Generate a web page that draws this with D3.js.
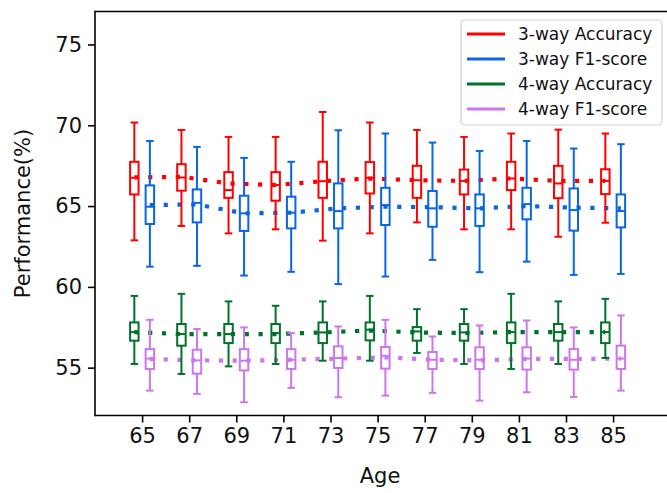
<!DOCTYPE html>
<html>
<head>
<meta charset="utf-8">
<script src="https://cdn.jsdelivr.net/npm/d3@7"></script>
<style>
  html, body { margin: 0; padding: 0; background: #fff; overflow: hidden; }
  svg { display: block; overflow: hidden; font-family: "DejaVu Sans", sans-serif; }
</style>
</head>
<body>
<svg id="chart" width="667" height="493"></svg>
<script>
// ---------------- data ----------------
const ages = [65, 67, 69, 71, 73, 75, 77, 79, 81, 83, 85];
const xTicks = [65, 67, 69, 71, 73, 75, 77, 79, 81, 83, 85];
const yTicks = [55, 60, 65, 70, 75];
const seriesNames = ["3-way Accuracy", "3-way F1-score", "4-way Accuracy", "4-way F1-score"];
const seriesColors = ["#ff0000", "#0866e6", "#007229", "#cc77ee"];
const seriesOffsets = [-0.33, 0.33, -0.33, 0.33];

// 3-way Accuracy
const acc3Hi   = [70.17, 69.71, 69.28, 69.28, 70.82, 70.17, 69.71, 69.28, 69.49, 69.73, 69.49];
const acc3Q3   = [67.74, 67.59, 67.10, 67.10, 67.74, 67.72, 67.49, 67.26, 67.74, 67.49, 67.28];
const acc3Med  = [66.75, 66.77, 65.99, 66.30, 66.54, 66.75, 66.60, 66.56, 66.71, 66.40, 66.56];
const acc3Q1   = [65.72, 65.95, 65.51, 65.33, 65.51, 65.78, 65.51, 65.72, 65.99, 65.49, 65.74];
const acc3Lo   = [62.88, 63.77, 63.31, 63.56, 62.86, 63.31, 63.99, 63.56, 63.56, 63.10, 63.97];
const acc3Mean = [66.77, 66.81, 66.40, 66.30, 66.54, 66.70, 66.60, 66.56, 66.71, 66.56, 66.56];

// 3-way F1-score
const f13Hi   = [69.03, 68.66, 67.98, 67.74, 69.69, 69.49, 68.93, 68.41, 69.03, 68.56, 68.83];
const f13Q3   = [66.28, 66.03, 65.64, 65.58, 66.40, 66.13, 65.93, 65.72, 66.13, 66.09, 65.72];
const f13Med  = [64.96, 65.20, 64.55, 64.59, 64.69, 65.06, 64.86, 64.86, 65.12, 64.75, 64.69];
const f13Q1   = [63.89, 63.99, 63.46, 63.62, 63.62, 63.83, 63.72, 63.77, 64.18, 63.48, 63.68];
const f13Lo   = [61.25, 61.30, 60.70, 60.93, 60.17, 60.64, 61.67, 60.91, 61.56, 60.74, 60.80];
const f13Mean = [65.06, 65.10, 64.55, 64.59, 64.86, 64.96, 64.93, 64.86, 65.00, 64.90, 64.86];

// 4-way Accuracy
const acc4Hi   = [59.44, 59.57, 59.10, 58.83, 59.10, 59.44, 58.62, 58.62, 59.57, 59.10, 59.26];
const acc4Q3   = [57.80, 57.70, 57.70, 57.70, 57.80, 57.80, 57.51, 57.70, 57.80, 57.70, 57.80];
const acc4Med  = [57.20, 57.08, 57.08, 57.14, 57.18, 57.35, 57.24, 57.18, 57.20, 57.20, 57.20];
const acc4Q1   = [56.67, 56.36, 56.52, 56.52, 56.52, 56.69, 56.67, 56.67, 56.52, 56.67, 56.52];
const acc4Lo   = [55.23, 54.61, 55.08, 55.23, 55.43, 55.43, 55.91, 55.23, 54.92, 55.23, 55.60];
const acc4Mean = [57.20, 57.08, 57.08, 57.08, 57.18, 57.30, 57.18, 57.14, 57.20, 57.20, 57.20];

// 4-way F1-score
const f14Hi   = [57.96, 57.39, 57.49, 57.14, 57.55, 57.96, 56.93, 57.61, 57.92, 57.49, 58.23];
const f14Q3   = [56.15, 56.11, 56.15, 56.15, 56.32, 56.28, 55.97, 56.26, 56.26, 56.15, 56.36];
const f14Med  = [55.56, 55.45, 55.43, 55.49, 55.60, 55.74, 55.49, 55.49, 55.56, 55.49, 55.56];
const f14Q1   = [54.92, 54.63, 54.83, 54.92, 54.98, 54.94, 54.92, 54.92, 54.88, 54.88, 54.92];
const f14Lo   = [53.58, 53.38, 52.86, 53.75, 53.17, 53.27, 53.44, 52.96, 53.48, 53.19, 53.58];
const f14Mean = [55.54, 55.45, 55.43, 55.49, 55.56, 55.64, 55.49, 55.45, 55.54, 55.54, 55.56];

// ---------------- build ----------------
const series = [
  {hi: acc3Hi, q3: acc3Q3, med: acc3Med, q1: acc3Q1, lo: acc3Lo, mean: acc3Mean},
  {hi: f13Hi,  q3: f13Q3,  med: f13Med,  q1: f13Q1,  lo: f13Lo,  mean: f13Mean},
  {hi: acc4Hi, q3: acc4Q3, med: acc4Med, q1: acc4Q1, lo: acc4Lo, mean: acc4Mean},
  {hi: f14Hi,  q3: f14Q3,  med: f14Med,  q1: f14Q1,  lo: f14Lo,  mean: f14Mean}
].map((s, i) => Object.assign(s, {name: seriesNames[i], color: seriesColors[i], off: seriesOffsets[i]}));

const W = 667;
const svg = d3.select("#chart");
const L = 95, T = 11.5, B = 415.5;

const x = d3.scaleLinear().domain([63, 87]).range([L, L + 24 * 23.55]);
const y = d3.scaleLinear().domain([52.04, 77.04]).range([B, T]);

const boxW = 0.36, capW = 0.32;
const g = svg.append("g");

// dotted mean lines first (under boxes)
series.forEach(s => {
  const line = d3.line().x((d, i) => x(ages[i] + s.off)).y(d => y(d));
  g.append("path")
    .attr("d", line(s.mean))
    .attr("fill", "none")
    .attr("stroke", s.color)
    .attr("stroke-width", 4.2)
    .attr("stroke-dasharray", "4.2,9.6");
});

// boxes
series.forEach(s => {
  const sg = g.append("g").attr("stroke", s.color).attr("stroke-width", 2).attr("fill", "none");
  ages.forEach((a, i) => {
    const cx = x(a + s.off);
    const bw = x(a + s.off + boxW / 2) - cx;
    const cw = x(a + s.off + capW / 2) - cx;
    sg.append("line").attr("x1", cx).attr("x2", cx).attr("y1", y(s.q3[i])).attr("y2", y(s.hi[i]));
    sg.append("line").attr("x1", cx).attr("x2", cx).attr("y1", y(s.q1[i])).attr("y2", y(s.lo[i]));
    sg.append("line").attr("x1", cx - cw).attr("x2", cx + cw).attr("y1", y(s.hi[i])).attr("y2", y(s.hi[i]));
    sg.append("line").attr("x1", cx - cw).attr("x2", cx + cw).attr("y1", y(s.lo[i])).attr("y2", y(s.lo[i]));
    sg.append("rect").attr("x", cx - bw).attr("width", 2 * bw)
      .attr("y", y(s.q3[i])).attr("height", y(s.q1[i]) - y(s.q3[i]));
    sg.append("line").attr("x1", cx - bw).attr("x2", cx + bw).attr("y1", y(s.med[i])).attr("y2", y(s.med[i]));
  });
});

// spines: left, top, bottom only (the right spine is beyond the picture's edge)
const sp = svg.append("g").attr("stroke", "#000").attr("stroke-width", 1.6).attr("stroke-linecap", "butt");
sp.append("line").attr("x1", L).attr("x2", L).attr("y1", T - 0.8).attr("y2", B + 0.8);
sp.append("line").attr("x1", L).attr("x2", W).attr("y1", T).attr("y2", T);
sp.append("line").attr("x1", L).attr("x2", W).attr("y1", B).attr("y2", B);

// axes
const xAxis = svg.append("g").attr("transform", `translate(0,${B})`)
  .call(d3.axisBottom(x).tickValues(xTicks).tickSize(7).tickPadding(6).tickFormat(d3.format("d")));
const yAxis = svg.append("g").attr("transform", `translate(${L},0)`)
  .call(d3.axisLeft(y).tickValues(yTicks).tickSize(7).tickPadding(6).tickFormat(d3.format("d")));
[xAxis, yAxis].forEach(ax => {
  ax.select(".domain").remove();
  ax.selectAll(".tick line").attr("stroke", "#000").attr("stroke-width", 1.6);
  ax.selectAll(".tick text").attr("fill", "#111").style("font-size", "21px")
    .style("font-family", "DejaVu Sans, sans-serif");
});

// axis labels
svg.append("text").attr("x", (L + 665) / 2).attr("y", 483).attr("text-anchor", "middle")
  .style("font-size", "21px").attr("fill", "#111").text("Age");
svg.append("text").attr("transform", `translate(30,${(T + B) / 2}) rotate(-90)`)
  .attr("text-anchor", "middle").style("font-size", "21px").attr("fill", "#111").text("Performance(%)");

// legend
const lg = svg.append("g");
lg.append("rect").attr("x", 461).attr("y", 20).attr("width", 201).attr("height", 105)
  .attr("rx", 4).attr("fill", "#fff").attr("fill-opacity", 0.85).attr("stroke", "#d0d0d0").attr("stroke-width", 1.2);
series.forEach((s, i) => {
  const yy = 34 + i * 25;
  lg.append("line").attr("x1", 467).attr("x2", 505).attr("y1", yy).attr("y2", yy)
    .attr("stroke", s.color).attr("stroke-width", 3);
  lg.append("text").attr("x", 518).attr("y", yy).attr("dy", "0.36em")
    .style("font-size", "17px").attr("fill", "#111").text(s.name);
});
</script>
</body>
</html>
